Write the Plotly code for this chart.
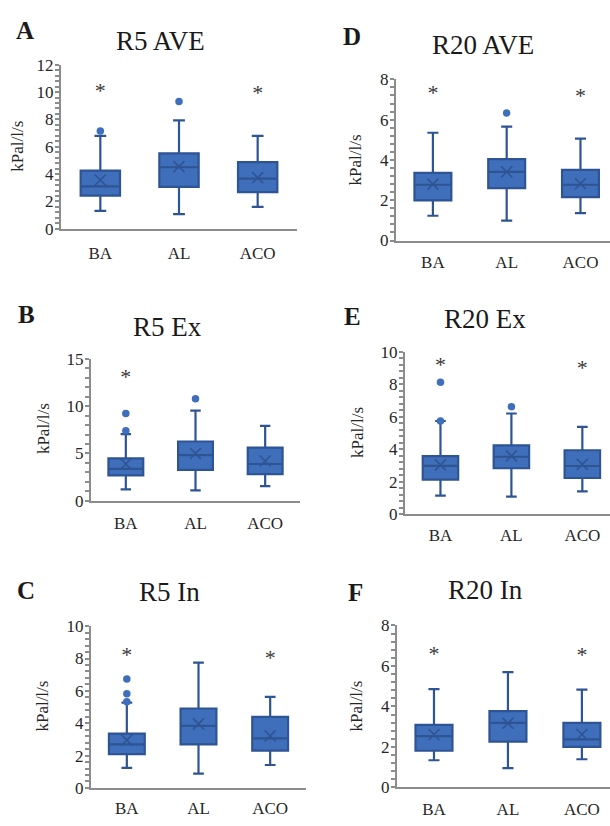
import plotly.graph_objects as go

W, H = 610, 826

categories = ["BA", "AL", "ACO"]

# ---- Panel A: R5 AVE ----
a_q1 = [2.43, 3.07, 2.69]
a_median = [3.10, 4.50, 3.67]
a_q3 = [4.26, 5.52, 4.88]
a_low = [1.31, 1.07, 1.60]
a_high = [6.79, 7.93, 6.79]
a_mean = [3.57, 4.55, 3.74]
a_out_x = ["BA", "AL"]
a_out_y = [7.16, 9.31]
a_sig_x = ["BA", "ACO"]
a_sig_y = [10.0, 9.8]

# ---- Panel B: R5 Ex ----
b_q1 = [2.69, 3.27, 2.82]
b_median = [3.37, 4.82, 3.89]
b_q3 = [4.48, 6.27, 5.62]
b_low = [1.20, 1.10, 1.55]
b_high = [7.06, 9.55, 7.93]
b_mean = [3.89, 5.00, 4.20]
b_out_x = ["BA", "BA", "AL"]
b_out_y = [9.24, 7.41, 10.79]
b_sig_x = ["BA"]
b_sig_y = [12.9]

# ---- Panel C: R5 In ----
c_q1 = [2.09, 2.69, 2.31]
c_median = [2.70, 3.84, 3.06]
c_q3 = [3.36, 4.91, 4.39]
c_low = [1.24, 0.88, 1.42]
c_high = [5.27, 7.75, 5.63]
c_mean = [2.96, 3.96, 3.22]
c_out_x = ["BA", "BA", "BA"]
c_out_y = [6.74, 5.83, 5.33]
c_sig_x = ["BA", "ACO"]
c_sig_y = [8.1, 7.95]

# ---- Panel D: R20 AVE ----
d_q1 = [1.99, 2.60, 2.15]
d_median = [2.77, 3.41, 2.77]
d_q3 = [3.36, 4.04, 3.51]
d_low = [1.23, 0.99, 1.36]
d_high = [5.35, 5.65, 5.06]
d_mean = [2.80, 3.41, 2.82]
d_out_x = ["AL"]
d_out_y = [6.33]
d_sig_x = ["BA", "ACO"]
d_sig_y = [7.25, 7.1]

# ---- Panel E: R20 Ex ----
e_q1 = [2.14, 2.84, 2.24]
e_median = [2.99, 3.55, 2.98]
e_q3 = [3.59, 4.25, 3.95]
e_low = [1.16, 1.10, 1.42]
e_high = [5.75, 6.21, 5.39]
e_mean = [3.05, 3.60, 3.08]
e_out_x = ["BA", "BA", "AL"]
e_out_y = [8.14, 5.75, 6.63]
e_sig_x = ["BA", "ACO"]
e_sig_y = [9.1, 8.9]

# ---- Panel F: R20 In ----
f_q1 = [1.81, 2.26, 2.00]
f_median = [2.53, 3.19, 2.37]
f_q3 = [3.09, 3.77, 3.19]
f_low = [1.34, 0.95, 1.39]
f_high = [4.86, 5.70, 4.83]
f_mean = [2.61, 3.17, 2.61]
f_out_x = []
f_out_y = []
f_sig_x = ["BA", "ACO"]
f_sig_y = [6.5, 6.45]

titles = ["R5 AVE", "R5 Ex", "R5 In", "R20 AVE", "R20 Ex", "R20 In"]
letters = ["A", "B", "C", "D", "E", "F"]
y_max = [12, 15, 10, 8, 10, 8]
y_dtick = [2, 5, 2, 2, 2, 2]
y_title = "kPal/l/s"

panels = [
    (a_q1, a_median, a_q3, a_low, a_high, a_mean, a_out_x, a_out_y, a_sig_x, a_sig_y),
    (b_q1, b_median, b_q3, b_low, b_high, b_mean, b_out_x, b_out_y, b_sig_x, b_sig_y),
    (c_q1, c_median, c_q3, c_low, c_high, c_mean, c_out_x, c_out_y, c_sig_x, c_sig_y),
    (d_q1, d_median, d_q3, d_low, d_high, d_mean, d_out_x, d_out_y, d_sig_x, d_sig_y),
    (e_q1, e_median, e_q3, e_low, e_high, e_mean, e_out_x, e_out_y, e_sig_x, e_sig_y),
    (f_q1, f_median, f_q3, f_low, f_high, f_mean, f_out_x, f_out_y, f_sig_x, f_sig_y),
]

# layout geometry in pixels: (x_left, x_right, y_bottom, y_top, x_range_max)
geom = [
    (61, 297, 225, 57, 2.5),
    (91, 300, 503.3, 358.3, 2.5),
    (91, 306, 797.3, 631.7, 2.5),
    (396, 610, 237, 72, 2.4),
    (405, 610, 517.3, 351, 2.39),
    (397, 610, 796.7, 631, 2.38),
]
# title pos, letter pos, y-title pos (pixels)
title_pos = [(160, 33), (167, 325), (170, 597), (483, 37), (485, 317), (485, 595)]
letter_pos = [(25, 22), (26, 313), (26, 595), (352, 28), (352, 315), (355, 597)]
ytitle_pos = [(18, 141), (43, 430), (43, 714), (355, 155), (357, 434), (357, 714)]
xlabel_len = [8, 6, 4, 5, 4, 5]

FILL = "#3F6FBA"
EDGE = "#2E5494"
AXIS = "#8C8C8C"
FONT = "Liberation Serif"


def px(x):
    return x / W


def py(y):
    return 1 - y / H


fig = go.Figure()
annotations = []
layout = {}

for i, (q1, med, q3, lo, hi, mn, ox, oy, sx, sy) in enumerate(panels):
    n = "" if i == 0 else str(i + 1)
    xa, ya = "x" + n, "y" + n
    fig.add_trace(go.Box(
        x=categories, q1=q1, median=med, q3=q3,
        lowerfence=lo, upperfence=hi,
        width=0.5, whiskerwidth=0.3,
        fillcolor=FILL, line=dict(color=EDGE, width=2.2),
        boxpoints=False, xaxis=xa, yaxis=ya, showlegend=False,
        hoverinfo="skip",
    ))
    fig.add_trace(go.Scatter(
        x=categories, y=mn, mode="markers",
        marker=dict(symbol="x-thin", size=11, line=dict(color=EDGE, width=1.6)),
        xaxis=xa, yaxis=ya, showlegend=False, hoverinfo="skip",
    ))
    if ox:
        fig.add_trace(go.Scatter(
            x=ox, y=oy, mode="markers",
            marker=dict(symbol="circle", size=7.5, color=FILL, line=dict(width=0)),
            xaxis=xa, yaxis=ya, showlegend=False, hoverinfo="skip",
        ))
    fig.add_trace(go.Scatter(
        x=sx, y=sy, mode="text", text=["*"] * len(sx),
        textposition="middle center",
        textfont=dict(family=FONT, size=22, color="#3A3A3A"),
        xaxis=xa, yaxis=ya, showlegend=False, hoverinfo="skip",
    ))

    xl, xr, yb, yt, xmax = geom[i]
    layout["xaxis" + n] = dict(
        domain=[px(xl), px(xr)], anchor=ya, type="category",
        categoryorder="array", categoryarray=categories,
        range=[-0.5, xmax], showline=True, linecolor=AXIS, linewidth=2,
        ticks="outside", ticklen=xlabel_len[i], tickcolor="rgba(0,0,0,0)",
        tickfont=dict(family=FONT, size=17, color="#262626"),
        showgrid=False, zeroline=False, fixedrange=True,
    )
    layout["yaxis" + n] = dict(
        domain=[py(yb), py(yt)], anchor=xa,
        range=[0, y_max[i]], dtick=y_dtick[i], tick0=0,
        showline=True, linecolor=AXIS, linewidth=2,
        ticks="outside", ticklen=4, tickcolor=AXIS, tickwidth=2,
        minor=dict(dtick=y_dtick[i] / 5, ticks="outside", ticklen=4,
                   tickcolor=AXIS, tickwidth=1.5),
        ticklabelstandoff=-2,
        tickfont=dict(family=FONT, size=17, color="#262626"),
        showgrid=False, zeroline=False, fixedrange=True,
    )

    tx, ty = title_pos[i]
    annotations.append(dict(
        text=titles[i], x=px(tx), y=py(ty), xref="paper", yref="paper",
        xanchor="center", yanchor="middle", showarrow=False,
        font=dict(family=FONT, size=27, color="#1A1A1A"),
    ))
    lx, ly = letter_pos[i]
    annotations.append(dict(
        text="<b>" + letters[i] + "</b>", x=px(lx), y=py(ly), xref="paper", yref="paper",
        xanchor="center", yanchor="middle", showarrow=False,
        font=dict(family=FONT, size=25, color="#1A1A1A"),
    ))
    gx, gy = ytitle_pos[i]
    annotations.append(dict(
        text=y_title, x=px(gx), y=py(gy), xref="paper", yref="paper",
        xanchor="center", yanchor="middle", showarrow=False, textangle=-90,
        font=dict(family=FONT, size=17, color="#262626"),
    ))

fig.update_layout(
    width=W, height=H,
    margin=dict(l=0, r=0, t=0, b=0),
    paper_bgcolor="white", plot_bgcolor="white",
    font=dict(family=FONT, size=17, color="#262626"),
    annotations=annotations,
    **layout,
)

fig.write_html(
    "out.html",
    config={"displayModeBar": False},
    post_script="document.body.style.margin='0';document.body.style.overflow='hidden';",
)
